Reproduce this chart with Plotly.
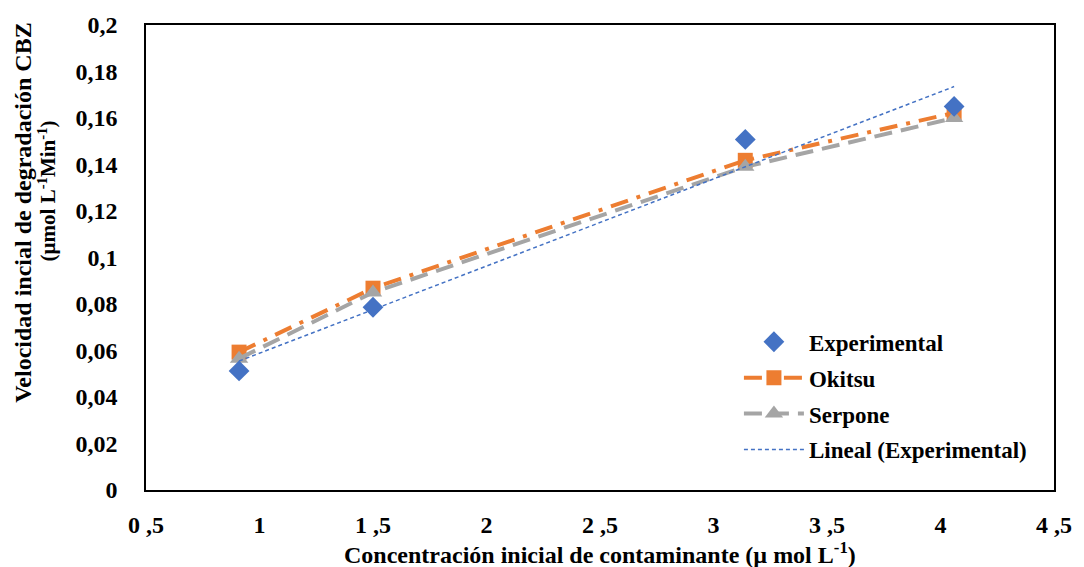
import numpy as np
import plotly.graph_objects as go

# Initial contaminant concentration (µmol/L)
concentracion = [0.91, 1.50, 3.14, 4.06]

# Initial degradation rate of CBZ (µmol L-1 min-1)
experimental = [0.0512, 0.0786, 0.1508, 0.1650]
okitsu = [0.0593, 0.0868, 0.1418, 0.1622]
serpone = [0.0565, 0.0850, 0.1390, 0.1600]

x_ticks = [0.5, 1, 1.5, 2, 2.5, 3, 3.5, 4, 4.5]
x_ticktext = ["0 ,5", "1", "1 ,5", "2", "2 ,5", "3", "3 ,5", "4", "4 ,5"]
y_ticks = [0, 0.02, 0.04, 0.06, 0.08, 0.1, 0.12, 0.14, 0.16, 0.18, 0.2]
y_ticktext = ["0", "0,02", "0,04", "0,06", "0,08", "0,1", "0,12", "0,14", "0,16", "0,18", "0,2"]

# Linear trend line fitted to the experimental points
pendiente, intercepto = np.polyfit(concentracion, experimental, 1)
x_fit = np.array([min(concentracion), max(concentracion)])
y_fit = pendiente * x_fit + intercepto

FONT = "Liberation Serif"
BLUE, ORANGE, GRAY = "#4472C4", "#ED7D31", "#A5A5A5"


def bold(labels):
    return [f"<b>{t}</b>" for t in labels]


fig = go.Figure()

fig.add_trace(go.Scatter(
    x=concentracion, y=okitsu, name="<b>Okitsu</b>", mode="lines+markers",
    line=dict(color=ORANGE, width=4, dash="18px,9px,4px,9px"),
    marker=dict(symbol="square", size=15, color=ORANGE),
    legendrank=2, legendgroup="b"))

fig.add_trace(go.Scatter(
    x=concentracion, y=serpone, name="<b>Serpone</b>", mode="lines+markers",
    line=dict(color=GRAY, width=4, dash="18px,9px"),
    marker=dict(symbol="triangle-up", size=16, color=GRAY),
    legendrank=3, legendgroup="c"))

fig.add_trace(go.Scatter(
    x=x_fit, y=y_fit, name="<b>Lineal (Experimental)</b>", mode="lines",
    line=dict(color=BLUE, width=1.5, dash="4px,3px"),
    legendrank=4, legendgroup="d"))

fig.add_trace(go.Scatter(
    x=concentracion, y=experimental, name="<b>Experimental</b>", mode="markers",
    marker=dict(symbol="diamond", size=16, color=BLUE),
    legendrank=1, legendgroup="a"))

fig.update_layout(
    width=1084, height=567,
    margin=dict(l=146, r=21, t=23, b=77),
    paper_bgcolor="white", plot_bgcolor="white",
    font=dict(family=FONT, color="black"),
    showlegend=True,
    legend=dict(x=0.653, y=0.365, xanchor="left", yanchor="top",
                font=dict(family=FONT, size=23, color="black"),
                bgcolor="rgba(0,0,0,0)", tracegroupgap=3,
                itemwidth=60),
    xaxis=dict(range=[0.5, 4.5], tickvals=x_ticks, ticktext=bold(x_ticktext),
               showgrid=False, zeroline=False,
               showline=True, linecolor="black", linewidth=1.5, mirror=True,
               ticks="", ticklabelstandoff=12,
               tickfont=dict(family=FONT, size=24, color="black")),
    yaxis=dict(range=[0, 0.2], tickvals=y_ticks, ticktext=bold(y_ticktext),
               showgrid=False, zeroline=False,
               showline=True, linecolor="black", linewidth=1.5, mirror=True,
               ticks="", ticklabelstandoff=22,
               tickfont=dict(family=FONT, size=24, color="black")),
)

# Axis titles
fig.add_annotation(
    text="<b>Concentración inicial de contaminante (µ mol L<sup>-1</sup>)</b>",
    xref="paper", yref="paper", x=0.5005, y=-0.135, xanchor="center", yanchor="middle",
    showarrow=False, font=dict(family=FONT, size=24, color="black"))

fig.add_annotation(
    text="<b>Velocidad incial de degradación CBZ</b>",
    xref="paper", yref="paper", x=-0.135, y=0.597, xanchor="center", yanchor="middle",
    textangle=-90, showarrow=False, font=dict(family=FONT, size=24, color="black"))

fig.add_annotation(
    text="<b>(µmol L<sup>-1</sup>Min<sup>-1</sup>)</b>",
    xref="paper", yref="paper", x=-0.109, y=0.642, xanchor="center", yanchor="middle",
    textangle=-90, showarrow=False, font=dict(family=FONT, size=21, color="black"))

fig.write_html("out.html")
